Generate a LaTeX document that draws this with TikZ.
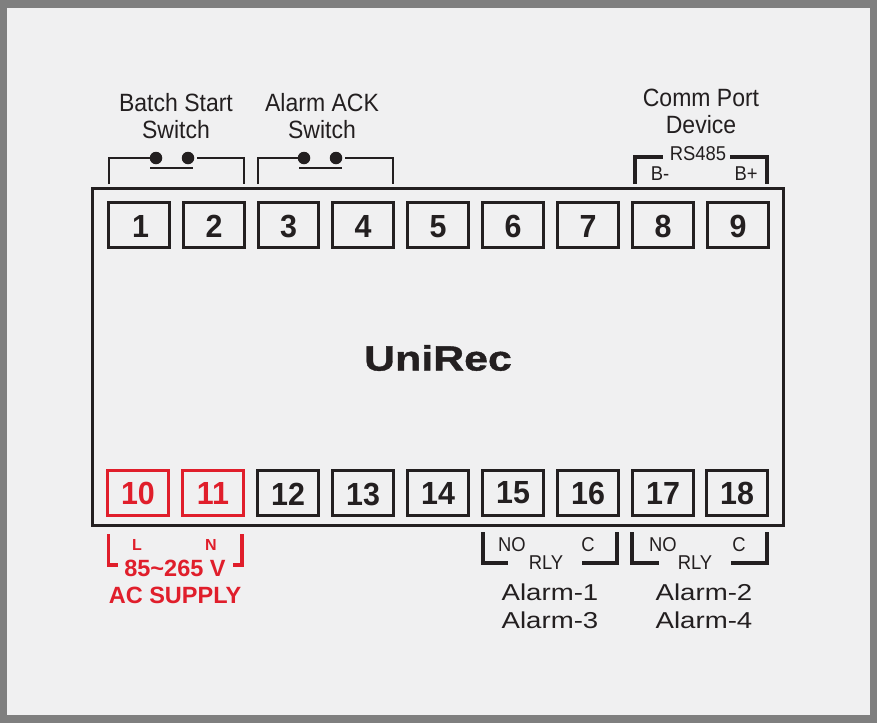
\documentclass[tikz,border=0pt]{standalone}
\usepackage{fontspec}
\setmainfont{Liberation Sans}
\newfontfamily\widefont[FakeStretch=1.2]{Liberation Sans}
\newfontfamily\ttlfont[FakeStretch=1.225,BoldFeatures={FakeBold=1.2}]{Liberation Sans}
\newfontfamily\narrowfont[FakeStretch=0.92]{Liberation Sans}
\newfontfamily\digitfont[FakeStretch=0.95]{Liberation Sans}
\definecolor{framegray}{HTML}{7F7F7F}
\definecolor{paper}{HTML}{F0F0F1}
\definecolor{ink}{HTML}{231F20}
\definecolor{alarmred}{HTML}{E01E2B}
\newcommand{\topdg}[1]{\raisebox{-12.5pt}[0pt][0pt]{#1}}
\tikzset{
  term/.style={draw=ink,line width=3.4pt,minimum width=60.5pt,minimum height=44.5pt,inner sep=0pt,text=ink,font=\digitfont\fontsize{32}{32}\selectfont\bfseries},
  redterm/.style={term,draw=alarmred,text=alarmred},
  lbl/.style={inner sep=0pt,text=ink,align=center,font=\narrowfont\fontsize{25}{27}\selectfont},
  small/.style={inner sep=0pt,text=ink,font=\narrowfont\fontsize{20}{20}\selectfont},
  alarm/.style={inner sep=0pt,text=ink,align=center,font=\widefont\fontsize{23}{28}\selectfont},
  redlbl/.style={inner sep=0pt,text=alarmred,font=\fontsize{23.5}{24}\selectfont\bfseries},
  redsmall/.style={inner sep=0pt,text=alarmred,font=\fontsize{16}{16}\selectfont\bfseries},
  wire/.style={draw=ink,line width=2pt},
  heavy/.style={draw=ink,line width=3.6pt,line cap=butt,line join=miter},
  redwire/.style={draw=alarmred,line width=3.6pt,line join=miter},
  contact/.style={circle,fill=ink,minimum size=12.5pt,inner sep=0pt},
}
\begin{document}
\begin{tikzpicture}[x=1pt,y=-1pt]
\useasboundingbox (0,0) rectangle (877,723);
\fill[framegray] (0,0) rectangle (877,723);
\fill[paper] (7,8) rectangle (870,715);
% housing
\node[draw=ink,line width=3.6pt,minimum width=691pt,minimum height=337pt,inner sep=0pt] (housing) at (438,357) {};
\node[inner sep=0pt,text=ink,font=\ttlfont\fontsize{35}{35}\selectfont\bfseries] (title) at (438,358) {UniRec};
% top terminals
\node[term] (t1) at (139,225) {\topdg{\kern3pt 1}};
\node[term] (t2) at (214,225) {\topdg{2}};
\node[term] (t3) at (288.5,225) {\topdg{3}};
\node[term] (t4) at (363,225) {\topdg{4}};
\node[term] (t5) at (438,225) {\topdg{5}};
\node[term] (t6) at (513,225) {\topdg{6}};
\node[term] (t7) at (588,225) {\topdg{7}};
\node[term] (t8) at (663,225) {\topdg{8}};
\node[term] (t9) at (738,225) {\topdg{9}};
% bottom terminals
\node[redterm] (t10) at (138,493) {10};
\node[redterm] (t11) at (213,493) {11};
\node[term] (t12) at (288,493) {\topdg{12}};
\node[term] (t13) at (363,493) {\topdg{13}};
\node[term] (t14) at (438,493) {14};
\node[term] (t15) at (513,493) {15};
\node[term] (t16) at (588,493) {16};
\node[term] (t17) at (663,493) {17};
\node[term] (t18) at (737,493) {18};
% top labels
\node[lbl] (lb1) at (176,116) {Batch Start\\Switch};
\node[lbl] (lb2) at (322,116) {Alarm ACK\\Switch};
\node[lbl] (lb3) at (701,111) {Comm Port\\Device};
% switch 1
\node[contact] (d1) at (156,158) {};
\node[contact] (d2) at (188,158) {};
\coordinate (s1a) at (109,184);
\coordinate (s1b) at (244,184);
\coordinate (b1a) at (150,168);
\coordinate (b1b) at (193,168);
\draw[wire] (s1a) |- (d1);
\draw[wire] ([xshift=3pt]d2.east) -| (s1b);
\draw[wire] (b1a) -- (b1b);
% switch 2
\node[contact] (d3) at (304,158) {};
\node[contact] (d4) at (336,158) {};
\coordinate (s2a) at (257.5,184);
\coordinate (s2b) at (392.5,184);
\coordinate (b2a) at (299,168);
\coordinate (b2b) at (342,168);
\draw[wire] (s2a) |- (d3);
\draw[wire] ([xshift=3pt]d4.east) -| (s2b);
\draw[wire] (b2a) -- (b2b);
% RS485
\node[small] (rs) at (698,154) {RS485};
\node[small] (bm) at (660,174) {B-};
\node[small] (bp) at (746,174) {B+};
\coordinate (r1) at (635,184);
\coordinate (r2) at (767,184);
\coordinate (r1e) at (663,157);
\coordinate (r2e) at (730,157);
\draw[heavy] (r1) |- (r1e);
\draw[heavy] (r2) |- (r2e);
% AC supply
\node[redsmall] (l) at (137,545) {L};
\node[redsmall] (n) at (211,545) {N};
\node[redlbl] (v) at (175,568) {85\textasciitilde265 V};
\node[redlbl] (ac) at (175,595) {AC SUPPLY};
\coordinate (a1) at (108.5,534);
\coordinate (a2) at (242,534);
\coordinate (a1e) at (118,565);
\coordinate (a2e) at (233,565);
\draw[redwire] (a1) |- (a1e);
\draw[redwire] (a2) |- (a2e);
% relay 1
\node[small] (no1) at (512,545) {NO};
\node[small] (c1) at (588,545) {C};
\node[small] (rly1) at (546,563) {RLY};
\node[alarm] (al1) at (550,606) {Alarm-1\\Alarm-3};
\coordinate (e1) at (483,532);
\coordinate (e2) at (617,532);
\coordinate (e1e) at (508,563);
\coordinate (e2e) at (582,563);
\draw[heavy] (e1) |- (e1e);
\draw[heavy] (e2) |- (e2e);
% relay 2
\node[small] (no2) at (663,545) {NO};
\node[small] (c2) at (739,545) {C};
\node[small] (rly2) at (695,563) {RLY};
\node[alarm] (al2) at (704,606) {Alarm-2\\Alarm-4};
\coordinate (f1) at (632,532);
\coordinate (f2) at (767,532);
\coordinate (f1e) at (659,563);
\coordinate (f2e) at (731,563);
\draw[heavy] (f1) |- (f1e);
\draw[heavy] (f2) |- (f2e);
\end{tikzpicture}
\end{document}
